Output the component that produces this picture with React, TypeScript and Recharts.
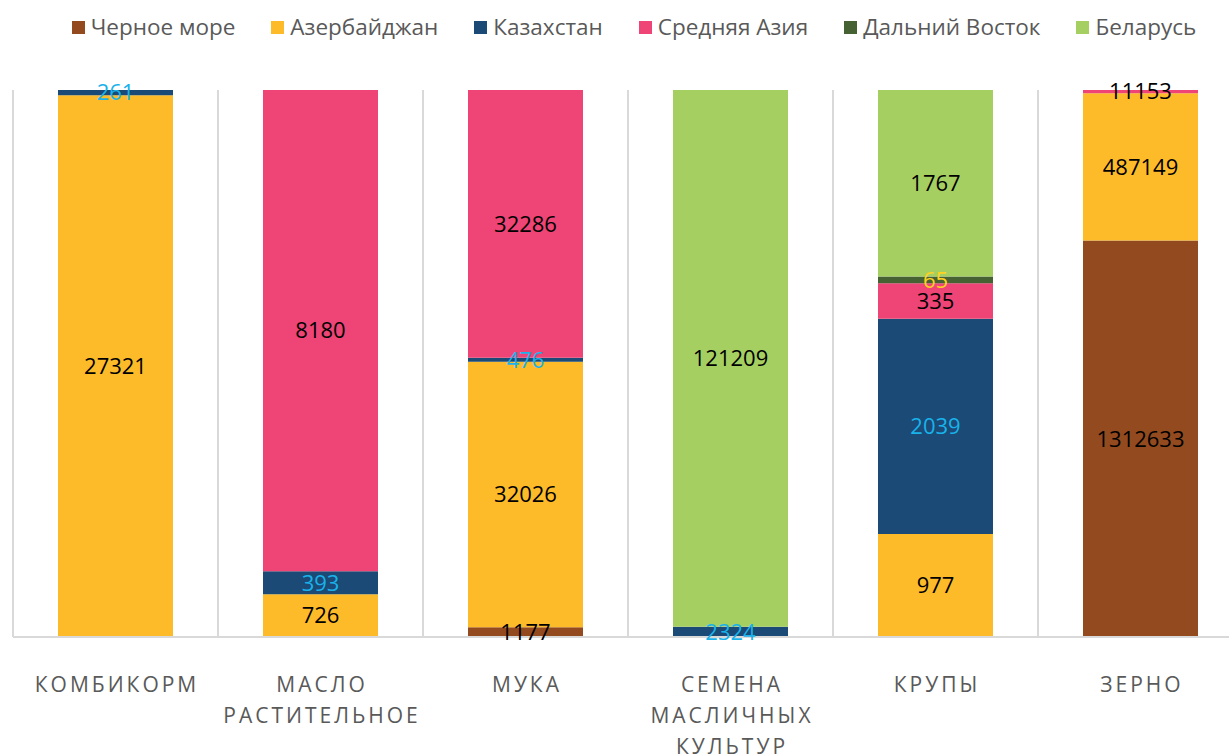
import { BarChart, Bar, XAxis, YAxis, CartesianGrid, LabelList } from 'recharts'

const categories = ['КОМБИКОРМ', 'МАСЛО\nРАСТИТЕЛЬНОЕ', 'МУКА', 'СЕМЕНА\nМАСЛИЧНЫХ\nКУЛЬТУР', 'КРУПЫ', 'ЗЕРНО']

const chernoeMore = [null, null, 1177, null, null, 1312633]
const azerbaijan = [27321, 726, 32026, null, 977, 487149]
const kazakhstan = [261, 393, 476, 2324, 2039, null]
const srednyayaAziya = [null, 8180, 32286, null, 335, 11153]
const dalniyVostok = [null, null, null, null, 65, null]
const belarus = [null, null, null, 121209, 1767, null]

const series = [
  { key: 'chernoeMore', name: 'Черное море', values: chernoeMore, color: '#944A1F', label: '#000000' },
  { key: 'azerbaijan', name: 'Азербайджан', values: azerbaijan, color: '#FDBB29', label: '#000000' },
  { key: 'kazakhstan', name: 'Казахстан', values: kazakhstan, color: '#1A4A75', label: '#19B2EA' },
  { key: 'srednyayaAziya', name: 'Средняя Азия', values: srednyayaAziya, color: '#EF4476', label: '#000000' },
  { key: 'dalniyVostok', name: 'Дальний Восток', values: dalniyVostok, color: '#466232', label: '#FFD21F' },
  { key: 'belarus', name: 'Беларусь', values: belarus, color: '#A6CF62', label: '#000000' },
]

const data = categories.map((name, i) => {
  const row: Record<string, string | number | null> = { name }
  series.forEach((s) => {
    row[s.key] = s.values[i]
  })
  return row
})

const FONT = '"Open Sans", "Noto Sans", sans-serif'

function CategoryTick({ x, y, payload }: any) {
  const lines = String(payload.value).split('\n')
  return (
    <text
      x={x}
      y={y}
      textAnchor="middle"
      fill="#595959"
      fontSize={21}
      fontFamily={FONT}
      style={{ letterSpacing: 3 }}
    >
      {lines.map((line, i) => (
        <tspan key={i} x={x + 1.5} y={y + 47 + i * 31}>
          {line}
        </tspan>
      ))}
    </text>
  )
}

function gridColumns({ offset }: any) {
  const step = offset.width / categories.length
  return categories.map((_, i) => offset.left + i * step).concat(offset.left + offset.width)
}

export default function App() {
  return (
    <div
      style={{
        position: 'absolute',
        left: 0,
        top: 0,
        width: 1229,
        height: 755,
        overflow: 'hidden',
        background: '#fff',
        fontFamily: FONT,
      }}
    >
      <div
        style={{
          position: 'absolute',
          top: 10,
          left: 0,
          width: 1268,
          display: 'flex',
          justifyContent: 'center',
          gap: 36,
        }}
      >
        {series.map((s) => (
          <div key={s.key} style={{ display: 'flex', alignItems: 'center', gap: 6 }}>
            <span style={{ width: 13, height: 13, background: s.color, display: 'inline-block' }} />
            <span style={{ fontSize: 22.5, color: '#595959', lineHeight: '34px' }}>{s.name}</span>
          </div>
        ))}
      </div>
      <BarChart
        width={1245}
        height={755}
        data={data}
        stackOffset="expand"
        barSize={115}
        margin={{ top: 90, right: 2, left: 13, bottom: 0 }}
      >
        <CartesianGrid
          horizontal={false}
          stroke="#D9D9D9"
          strokeWidth={2}
          verticalCoordinatesGenerator={gridColumns}
        />
        <XAxis
          dataKey="name"
          height={118}
          axisLine={{ stroke: '#D9D9D9', strokeWidth: 2 }}
          tickLine={false}
          interval={0}
          tick={<CategoryTick />}
        />
        <YAxis hide domain={[0, 1]} />
        {series.map((s) => (
          <Bar key={s.key} dataKey={s.key} name={s.name} stackId="a" fill={s.color} isAnimationActive={false}>
            <LabelList
              dataKey={s.key}
              position="center"
              fill={s.label}
              fontSize={22}
              fontFamily={FONT}
              formatter={(v: any) => (v == null ? '' : v)}
            />
          </Bar>
        ))}
      </BarChart>
    </div>
  )
}
